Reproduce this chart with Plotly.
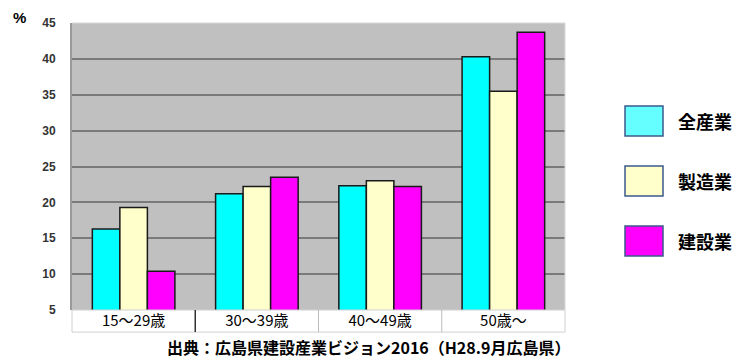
import plotly.graph_objects as go

categories = ["15～29歳", "30～39歳", "40～49歳", "50歳～"]
series_names = ["全産業", "製造業", "建設業"]
all_industry = [16.3, 21.2, 22.3, 40.3]
manufacturing = [19.3, 22.2, 23.0, 35.5]
construction = [10.4, 23.5, 22.2, 43.7]
y_ticks = [5, 10, 15, 20, 25, 30, 35, 40, 45]

bar_colors = ["#00FFFF", "#FFFFCC", "#FF00FF"]
legend_colors = ["#66FFFF", "#FFFFCC", "#FF00FF"]
values = [all_industry, manufacturing, construction]

fig = go.Figure()
for name, vals, col in zip(series_names, values, bar_colors):
    fig.add_trace(go.Bar(
        x=categories, y=vals, name=name,
        marker=dict(color=col, line=dict(color="#1a1a1a", width=1.5)),
        showlegend=False,
    ))

fig.update_layout(
    width=738, height=358,
    margin=dict(l=72, r=173, t=23, b=48),
    paper_bgcolor="white",
    plot_bgcolor="#C0C0C0",
    barmode="group",
    bargap=0.33,
    bargroupgap=0,
    font=dict(family="Noto Sans CJK JP", color="black"),
)
fig.update_yaxes(
    range=[5, 45], tickvals=y_ticks, ticktext=["<b>%d</b>" % v for v in y_ticks],
    showgrid=True, gridcolor="#7a7a7a", gridwidth=1.5,
    showline=True, linecolor="#9a9a9a", linewidth=2,
    ticks="", tickfont=dict(family="Liberation Sans", size=12, color="#333"),
    ticklabelstandoff=12, zeroline=False,
)
fig.update_xaxes(
    showline=False, ticks="",
    tickfont=dict(family="Noto Sans CJK JP", size=15, color="black"),
)

# x label boxes
shapes = [
    dict(type="rect", xref="paper", yref="paper", x0=0, x1=1, y0=-0.077, y1=0,
         line=dict(color="#d0d0d0", width=1), fillcolor="rgba(0,0,0,0)"),
    dict(type="line", xref="paper", yref="paper", x0=1, x1=1, y0=0, y1=1,
         line=dict(color="#d8d8d8", width=1)),
    dict(type="line", xref="paper", yref="paper", x0=0, x1=1, y0=1, y1=1,
         line=dict(color="#d8d8d8", width=1)),
]
for i in range(len(categories) - 1):
    shapes.append(dict(type="line", xref="x", yref="paper", x0=i + 0.5, x1=i + 0.5,
                       y0=-0.077, y1=0,
                       line=dict(color="#333" if i == 0 else "#bbbbbb", width=1.5 if i == 0 else 1)))

# custom legend
annotations = []
for i, (name, col) in enumerate(zip(series_names, legend_colors)):
    yc = 121 + i * 60
    shapes.append(dict(type="rect", xref="paper", yref="paper",
                       x0=(625 - 72) / 493, x1=(663 - 72) / 493,
                       y0=(310 - (yc + 15)) / 287, y1=(310 - (yc - 15)) / 287,
                       fillcolor=col, line=dict(color="#3a5a8a", width=1.5)))
    annotations.append(dict(xref="paper", yref="paper", x=(676 - 72) / 493,
                            y=(310 - yc) / 287, text="<b>" + name + "</b>",
                            showarrow=False, xanchor="left", yanchor="middle",
                            font=dict(family="Noto Sans CJK JP", size=18, color="black")))

annotations.append(dict(xref="paper", yref="paper", x=(19 - 72) / 493, y=(310 - 18) / 287,
                        text="<b>%</b>", showarrow=False, xanchor="center", yanchor="middle",
                        font=dict(family="Liberation Sans", size=15, color="black")))
annotations.append(dict(xref="paper", yref="paper", x=(368 - 72) / 493, y=(310 - 347) / 287,
                        text="<b>出典：広島県建設産業ビジョン2016（H28.9月広島県）</b>",
                        showarrow=False, xanchor="center", yanchor="middle",
                        font=dict(family="Noto Sans CJK JP", size=16, color="black")))

fig.update_layout(shapes=shapes, annotations=annotations)
fig.write_html("out.html")
